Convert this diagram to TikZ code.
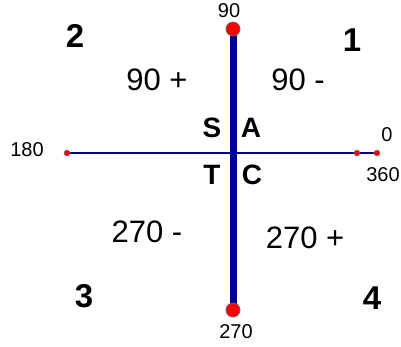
\documentclass[tikz,border=0pt]{standalone}
\usepackage{fontspec}
\setmainfont{Liberation Sans}
\usetikzlibrary{positioning, backgrounds}

\definecolor{axisblue}{RGB}{0,0,150}
\definecolor{dotred}{RGB}{255,0,0}

\begin{document}
\begin{tikzpicture}[
        x=1pt, y=-1pt,
        bigdot/.style={circle, fill=dotred, draw=black!60, line width=0.8pt, minimum size=14pt, inner sep=0pt},
        smalldot/.style={circle, fill=dotred, draw=black!50, line width=0.5pt, minimum size=6pt, inner sep=0pt},
        angle/.style={font=\fontsize{20}{20}\selectfont, inner sep=0pt},
        quadrant/.style={font=\fontsize{33}{33}\selectfont\bfseries, inner sep=0pt},
        sign/.style={font=\fontsize{31}{31}\selectfont, inner sep=0pt},
        letter/.style={font=\fontsize{28}{28}\selectfont\bfseries, inner sep=0pt}
    ]
        \useasboundingbox (0,0) rectangle (401,347);

        % axes end points
        \node[bigdot] (top) at (233,29) {};
        \node[bigdot] (bottom) at (233,310) {};
        \node[smalldot] (left) at (67,153) {};
        \node[smalldot] (right) at (357,153) {};
        \node[smalldot] (far) at (377,153) {};

        \begin{scope}[on background layer]
            \draw[axisblue, line width=1.5pt] (left.center) -- (far.center);
            \draw[axisblue, line width=7pt] (top.center) -- (bottom.center);
        \end{scope}

        % angle marks
        \node[angle] (a90) at (229,11) {90};
        \node[angle] (a180) at (27,150) {180};
        \node[angle] (a0) at (387,135) {0};
        \node[angle] (a360) at (383,175) {360};
        \node[angle] (a270) at (236,332) {270};

        % quadrants
        \node[quadrant] (q2) at (75,36) {2};
        \node[quadrant] (q1) at (352,40) {1};
        \node[quadrant] (q3) at (84,296) {3};
        \node[quadrant] (q4) at (372,298) {4};

        \node[sign] (s2) at (157,80) {90 +};
        \node[sign] (s1) at (298,80) {90 -};
        \node[sign] (s3) at (147,232) {270 -};
        \node[sign] (s4) at (305,238) {270 +};

        % ASTC
        \node[letter] (S) at (212,128) {S};
        \node[letter] (A) at (251,128) {A};
        \node[letter] (T) at (212,175) {T};
        \node[letter] (C) at (252,175) {C};
    \end{tikzpicture}
\end{document}
